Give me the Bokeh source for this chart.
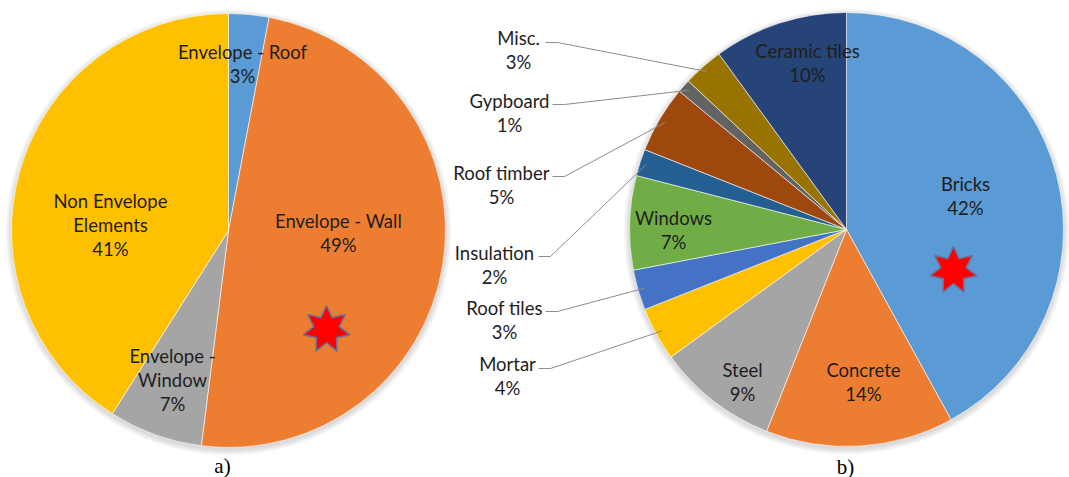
import numpy as np
from bokeh.plotting import figure
from bokeh.models import Range1d, ColumnDataSource
from bokeh.core.properties import value
from bokeh.embed import file_html
from bokeh.resources import INLINE

# ---------------- data ----------------
left_categories = ["Envelope - Roof", "Envelope - Wall", "Envelope - Window", "Non Envelope Elements"]
left_values = [3, 49, 7, 41]
left_colors = ["#5B9BD5", "#ED7D31", "#A5A5A5", "#FFC000"]
left_label_lines = [["Envelope - Roof"], ["Envelope - Wall"], ["Envelope -", "Window"], ["Non Envelope", "Elements"]]

right_categories = ["Bricks", "Concrete", "Steel", "Mortar", "Roof tiles", "Windows",
                    "Insulation", "Roof timber", "Gypboard", "Misc.", "Ceramic tiles"]
right_values = [42, 14, 9, 4, 3, 7, 2, 5, 1, 3, 10]
right_colors = ["#5B9BD5", "#ED7D31", "#A5A5A5", "#FFC000", "#4472C4", "#70AD47",
                "#255E91", "#9E480E", "#636363", "#997300", "#264478"]
right_outside = [False, False, False, True, True, False, True, True, True, True, False]

panel_tags = ["a)", "b)"]

# ---------------- layout (page pixels) ----------------
W, H = 1069, 477
PAGE_H = 477
def Y(py):
    return PAGE_H - py

R = 217
left_center = (228, Y(230))
right_center = (846, Y(229))

left_label_pos = [(242, 51), (338, 220), (172, 355), (110, 200)]
right_label_pos = [(965, 183), (863, 369), (742, 369), (507, 363), (504, 307), (673, 217),
                   (494, 252), (501, 172), (509, 100), (518, 37), (807, 50)]
# leader line start (right end of outside label name)
right_leader_start = {3: (538, 368), 4: (545, 311), 6: (538, 256), 7: (552, 176), 8: (552, 104), 9: (545, 42)}
LINE_H = 24

p = figure(width=W, height=H, x_range=Range1d(0, W), y_range=Range1d(0, H),
           output_backend="svg", toolbar_location=None, min_border=0)
p.axis.visible = False
p.grid.visible = False
p.outline_line_color = None
p.background_fill_color = "white"

FONT = value("Lato")
TXT = "#1e1e1e"

def pie(center, values, colors):
    vals = np.array(values, dtype=float)
    frac = vals / vals.sum()
    cum = np.concatenate([[0], np.cumsum(frac)])
    start = np.pi / 2 - 2 * np.pi * cum[:-1]
    end = np.pi / 2 - 2 * np.pi * cum[1:]
    # soft shadow
    for k in range(1, 7):
        p.circle(x=center[0], y=center[1] - 2, radius=R + k, fill_color="black", fill_alpha=0.022,
                 line_color=None)
    src = ColumnDataSource(dict(x=[center[0]] * len(vals), y=[center[1]] * len(vals),
                                start=start, end=end, color=colors))
    p.wedge(x="x", y="y", radius=R, start_angle="start", end_angle="end", direction="clock",
            fill_color="color", line_color="white", line_width=0.6, source=src)
    mid = np.pi / 2 - 2 * np.pi * (cum[:-1] + cum[1:]) / 2
    return frac, mid

def star(cx, cy, ro=24, ri=13, n=7):
    ang = np.pi / 2 + np.arange(2 * n) * np.pi / n
    rr = np.where(np.arange(2 * n) % 2 == 0, ro, ri)
    p.patch(cx + rr * np.cos(ang), cy + rr * np.sin(ang), fill_color="#FF0000",
            line_color="#6E6E96", line_width=1.6)

def add_text(xs, ys, texts, size="18.5px", font=FONT, color=TXT):
    p.text(x=xs, y=ys, text=texts, text_font=font, text_font_size=size, text_color=color,
           text_align="center", text_baseline="middle")

# left pie
lfrac, lmid = pie(left_center, left_values, left_colors)
xs, ys, ts = [], [], []
for i, lines in enumerate(left_label_lines):
    px, py = left_label_pos[i]
    for j, t in enumerate(lines + [f"{left_values[i]}%"]):
        xs.append(px); ys.append(Y(py + j * LINE_H)); ts.append(t)
add_text(xs, ys, ts)
star(left_center[0] + 98, left_center[1] - 99)

# right pie
rfrac, rmid = pie(right_center, right_values, right_colors)
xs, ys, ts = [], [], []
lx, ly = [], []
for i, name in enumerate(right_categories):
    px, py = right_label_pos[i]
    for j, t in enumerate([name, f"{right_values[i]}%"]):
        xs.append(px); ys.append(Y(py + j * LINE_H)); ts.append(t)
    if right_outside[i]:
        sx, sy = right_leader_start[i]
        ex = right_center[0] + 0.97 * R * np.cos(rmid[i])
        ey = right_center[1] + 0.97 * R * np.sin(rmid[i])
        lx.append([sx, sx + 12, ex]); ly.append([Y(sy), Y(sy), ey])
p.multi_line(xs=lx, ys=ly, line_color="#8C8C8C", line_width=1)
add_text(xs, ys, ts)
star(right_center[0] + 107, right_center[1] - 41)

# panel tags
add_text([222, 845], [Y(465), Y(466)], panel_tags, size="21px", font=value("Liberation Serif"), color="#000000")

open("out.html", "w").write(file_html(p, INLINE))
